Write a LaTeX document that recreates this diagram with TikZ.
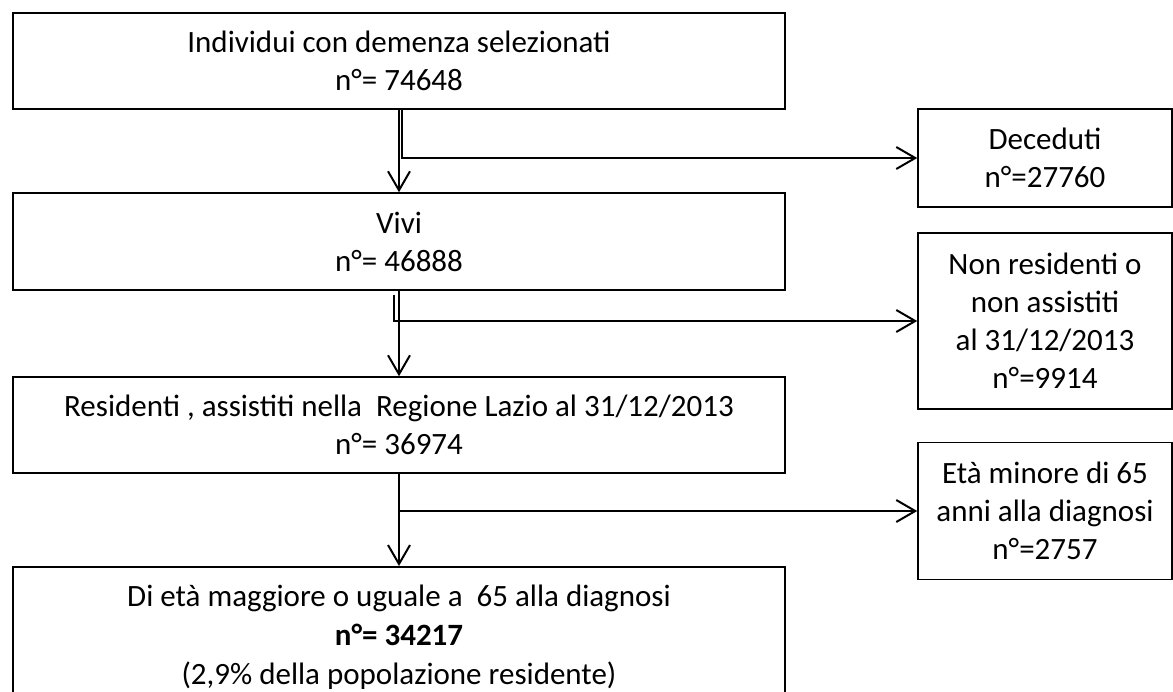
\documentclass[tikz,border=0pt]{standalone}
\usepackage{fontspec}
\setmainfont{Carlito}
\usetikzlibrary{arrows.meta}
\begin{document}
\begin{tikzpicture}[x=1pt,y=-1pt,
    txt/.style={align=center,inner sep=0pt,font=\fontsize{31}{38}\selectfont},
    box/.style={txt,draw,line width=1.5pt},
    mainbox/.style={box,minimum width=772pt},
    sidebox/.style={box,minimum width=254pt},
    arr/.style={line width=2pt,-{Straight Barb[length=19pt,width=22pt]}}]
                \useasboundingbox (0,0) rectangle (1173,691);
                \node[mainbox,minimum height=96pt] (sel) at (399,61) {Individui con demenza selezionati\\n°= 74648};
                \node[mainbox,minimum height=97pt] (vivi) at (399,241.5) {Vivi\\n°= 46888};
                \node[mainbox,minimum height=96pt] (res) at (399,425) {Residenti , assistiti nella\ \ Regione Lazio al 31/12/2013\\n°= 36974};
                \node[mainbox,minimum height=200pt,anchor=north] (eta) at (399,566) {};
                \node[txt,font=\fontsize{31}{39}\selectfont] (etatext) at (399,637) {Di età maggiore o uguale a\ \ 65 alla diagnosi\\\textbf{n°= 34217}\\(2,9\% della popolazione residente)};
                \node[sidebox,minimum height=98pt] (dec) at (1045,158) {Deceduti\\n°=27760};
                \node[sidebox,minimum height=176pt] (nonres) at (1045,321) {Non residenti o\\non assistiti\\al 31/12/2013\\n°=9914};
                \node[sidebox,minimum height=137pt] (minore) at (1045,511) {Età minore di 65\\anni alla diagnosi\\n°=2757};
                \draw[arr] (sel.south) -- (vivi.north);
                \draw[arr] (vivi.south) -- (res.north);
                \draw[arr] (res.south) -- (eta.north);
                \draw[arr] ([xshift=3pt]sel.south) |- (dec.west);
                \draw[arr] ([xshift=-5pt,yshift=-4pt]vivi.south) |- (nonres.west);
                \draw[arr] (res.south) |- (minore.west);
            \end{tikzpicture}
\end{document}
